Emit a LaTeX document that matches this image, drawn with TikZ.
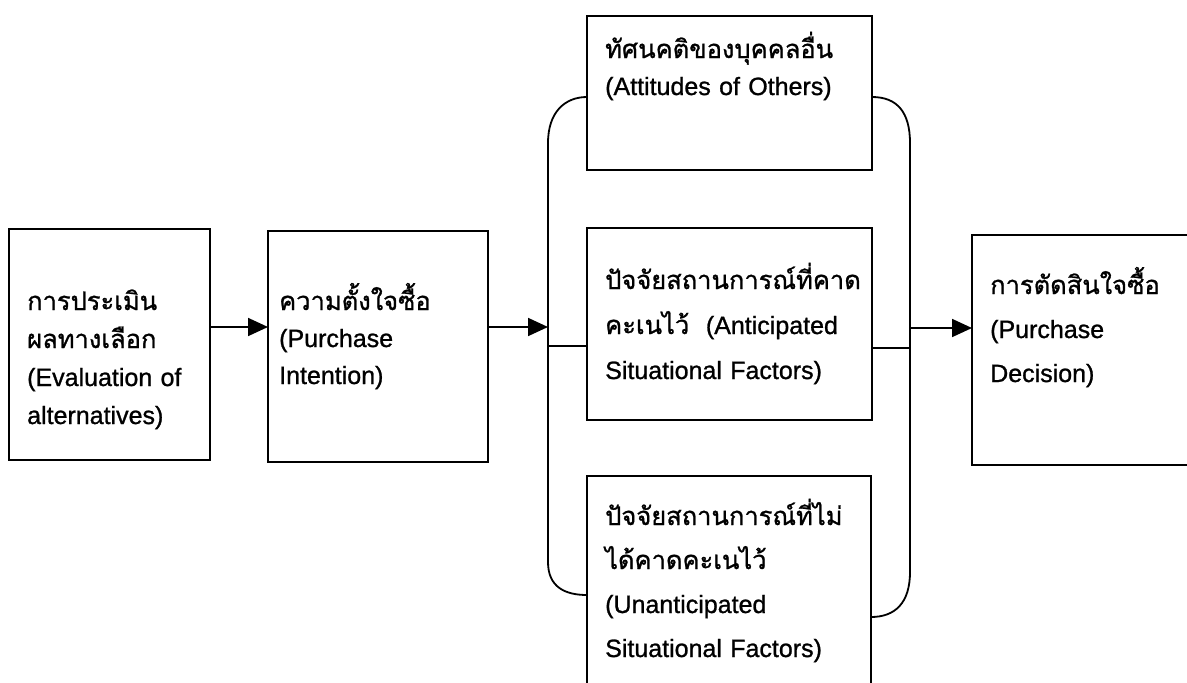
\documentclass[tikz,border=0pt]{standalone}
\usepackage{fontspec}
\setmainfont[FakeBold=1]{Liberation Sans}
\newfontfamily\thaifont[Script=Thai,Scale=1.02,FakeBold=1]{Loma}
\newcommand{\thx}[1]{{\thaifont #1}}
\usetikzlibrary{arrows.meta}
\begin{document}
\begin{tikzpicture}[x=1pt,y=-1pt,
  box/.style={draw, line width=2.4pt, rectangle, anchor=north west, inner sep=0pt, outer sep=0pt},
  txt/.style={anchor=base west, inner sep=0pt, text width=#1, align=left},
  ln/.style={line width=1.8pt},
  arr/.style={line width=1.8pt, -{Triangle[length=20pt,width=18pt]}}]
\useasboundingbox (0,0) rectangle (1187,683);
\clip (0,0) rectangle (1187,683);
% boxes
\node[box, minimum width=201pt, minimum height=231pt] (b1) at (9,229) {};
\node[box, minimum width=220pt, minimum height=231pt] (b2) at (268,231) {};
\node[box, minimum width=285pt, minimum height=154pt] (top) at (587,16) {};
\node[box, minimum width=285pt, minimum height=192pt] (mid) at (587,228) {};
\node[box, minimum width=284pt, minimum height=260pt] (bot) at (587,476) {};
\node[box, minimum width=240pt, minimum height=230pt] (b4) at (972,235) {};
% texts
\node[txt=185pt, font=\fontsize{25}{38}\selectfont] (t1) at (27,310)
  {\thx{การประเมิน}\\ \thx{ผลทางเลือก}\\ (Evaluation of\\ alternatives)};
\node[txt=205pt, font=\fontsize{25}{37}\selectfont] (t2) at (279,310)
  {\thx{ความตั้งใจซื้อ}\\ (Purchase\\ Intention)};
\node[txt=265pt, font=\fontsize{25}{37}\selectfont] (tt) at (605,58)
  {\thx{ทัศนคติของบุคคลอื่น}\\ (Attitudes of Others)};
\node[txt=265pt, font=\fontsize{25}{45}\selectfont] (tm) at (605,289)
  {\thx{ปัจจัยสถานการณ์ที่คาด}\\ \thx{คะเนไว้}\ \ (Anticipated\\ Situational Factors)};
\node[txt=265pt, font=\fontsize{25}{44}\selectfont] (tb) at (605,525)
  {\thx{ปัจจัยสถานการณ์ที่ไม่}\\ \thx{ได้คาดคะเนไว้}\\ (Unanticipated\\ Situational Factors)};
\node[txt=195pt, font=\fontsize{25}{44}\selectfont] (t4) at (990,294)
  {\thx{การตัดสินใจซื้อ}\\ (Purchase\\ Decision)};
% connector levels
\coordinate (ya) at (0,327);
\coordinate (yb) at (0,346);
\coordinate (yc) at (0,348);
\coordinate (yd) at (0,328);
\coordinate (bl) at (548,327);
\coordinate (br) at (910,348);
% bracket
\draw[ln] (587,97) .. controls (565,97) and (548,112) .. (548,143)
  -- (548,562) .. controls (548,587) and (565,595) .. (587,595);
\draw[ln] (872,97) .. controls (897,97) and (910,112) .. (910,143)
  -- (910,572) .. controls (910,603) and (895,617) .. (871,617);
% connectors
\draw[arr] (b1.east |- ya) -- (b2.west |- ya);
\draw[arr] (b2.east |- ya) -- (bl);
\draw[ln] (bl |- yb) -- (mid.west |- yb);
\draw[ln] (mid.east |- yc) -- (br);
\draw[arr] (br |- yd) -- (b4.west |- yd);
\end{tikzpicture}
\end{document}
